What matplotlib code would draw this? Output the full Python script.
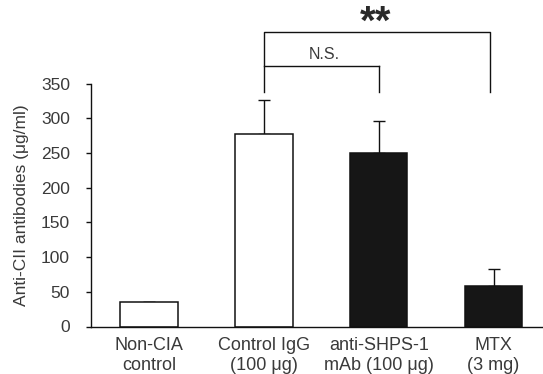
import matplotlib
matplotlib.use("Agg")
import matplotlib.pyplot as plt

plt.rcParams['font.family'] = ['Liberation Sans', 'DejaVu Sans']

# Group labels and measured values (mean and upper SD)
groups = ["Non-CIA\ncontrol", "Control IgG\n(100 \u03bcg)", "anti-SHPS-1\nmAb (100 \u03bcg)", "MTX\n(3 mg)"]
means = [35, 278, 250, 58]
errors = [0, 48, 47, 25]
fills = ["white", "white", "#161616", "#161616"]

ns_y = 376
star_y = 424
leg_bottom = 338

text_color = "#3a3a3a"

fig = plt.figure(figsize=(5.43, 3.74), dpi=100)
ax = fig.add_axes([90.7 / 543, 1 - 326.5 / 374, 1 - 90.7 / 543, (326.5 - 83.8) / 374])

x = list(range(len(groups)))
ax.bar(x, means, width=0.5, color=fills, edgecolor="#111111", linewidth=1.1, zorder=2)
ax.errorbar(x, means, yerr=[[0] * len(errors), errors], fmt="none", ecolor="#111111",
            elinewidth=1.0, capsize=4, capthick=1.0, zorder=1)

ax.set_xlim(-0.508, 3.43)
ax.set_ylim(0, 350)
ax.set_yticks(range(0, 351, 50))
ax.set_xticks(x)
ax.set_xticklabels(groups, fontsize=13, color=text_color, linespacing=1.25)
ax.tick_params(axis="x", length=0, pad=7.5)
ax.tick_params(axis="y", length=3.4, width=1.0, pad=11.5, labelsize=12.5,
               labelcolor=text_color, color="#111111")

for side in ("top", "right"):
    ax.spines[side].set_visible(False)
for side in ("left", "bottom"):
    ax.spines[side].set_linewidth(1.0)
    ax.spines[side].set_color("#111111")

ax.set_ylabel("Anti-CII antibodies (\u03bcg/ml)", fontsize=12.5, color=text_color, labelpad=8.5)

# Significance brackets
line_kw = dict(color="#111111", linewidth=1.0, clip_on=False)
ax.plot([x[1], x[1], 2.97, 2.97], [leg_bottom, star_y, star_y, leg_bottom], **line_kw)
ax.plot([x[1], x[2]], [ns_y, ns_y], **line_kw)
ax.plot([x[2], x[2]], [ns_y, leg_bottom], **line_kw)
ax.text(1.529, 386, "N.S.", ha="center", va="baseline",
        fontsize=11.5, color=text_color, clip_on=False)
ax.text(1.973, 422, "**", ha="center", va="baseline",
        fontsize=29, fontweight="bold", color="#2a2a2a", clip_on=False)

fig.savefig("out.png", dpi=100)
